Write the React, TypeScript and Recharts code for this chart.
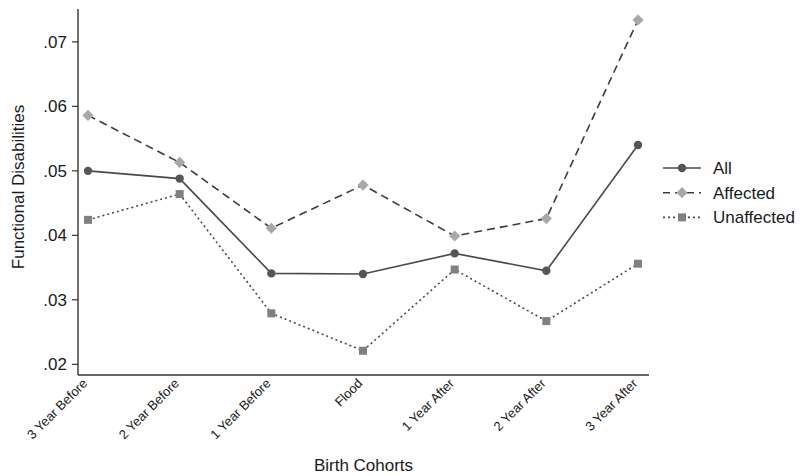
import { LineChart, Line, XAxis, YAxis } from "recharts";

const cohorts = ["3 Year Before", "2 Year Before", "1 Year Before", "Flood", "1 Year After", "2 Year After", "3 Year After"];
const allValues = [0.0500, 0.0488, 0.0341, 0.0340, 0.0372, 0.0345, 0.0540];
const affectedValues = [0.0586, 0.0513, 0.0411, 0.0478, 0.0399, 0.0426, 0.0734];
const unaffectedValues = [0.0424, 0.0464, 0.0279, 0.0221, 0.0347, 0.0267, 0.0356];
const yTicks = [0.02, 0.03, 0.04, 0.05, 0.06, 0.07];

const data = cohorts.map((c, i) => ({
  cohort: c,
  all: allValues[i],
  affected: affectedValues[i],
  unaffected: unaffectedValues[i],
}));

const FONT = "'Liberation Sans', Arial, sans-serif";
const TEXT = "#1a1a1a";
const FRAME = { stroke: "#333", strokeWidth: 1.4 };
const Y_DOMAIN = [0.01834, 0.0751];

const SERIES = [
  { key: "all", label: "All", line: "#4a4a4a", dash: undefined as string | undefined, marker: "circle", fill: "#555555" },
  { key: "affected", label: "Affected", line: "#3c3c3c", dash: "8 5", marker: "diamond", fill: "#a8a8a8" },
  { key: "unaffected", label: "Unaffected", line: "#4a4a4a", dash: "2 3", marker: "square", fill: "#808080" },
];

function Marker({ type, cx, cy, fill }: { type: string; cx: number; cy: number; fill: string }) {
  if (type === "circle") return <circle cx={cx} cy={cy} r={4.2} fill={fill} />;
  if (type === "diamond") {
    const d = 5.6;
    return <polygon points={`${cx},${cy - d} ${cx + d},${cy} ${cx},${cy + d} ${cx - d},${cy}`} fill={fill} />;
  }
  return <rect x={cx - 4} y={cy - 4} width={8} height={8} fill={fill} />;
}

const makeDot = (type: string, fill: string) => (props: any) => {
  const { cx, cy, index } = props;
  if (cx == null || cy == null) return <g key={index} />;
  return <Marker key={index} type={type} cx={cx} cy={cy} fill={fill} />;
};

const XTick = ({ x, y, payload }: any) => {
  const ax = x - 3;
  const ay = y - 2;
  return (
    <text
      x={ax}
      y={ay}
      dy="0.35em"
      textAnchor="end"
      transform={`rotate(-45 ${ax} ${ay})`}
      fontSize={13}
      fontFamily={FONT}
      fill={TEXT}
    >
      {payload.value}
    </text>
  );
};

// legend drawn beside the plot, outside recharts' layout
const LegendBox = () => (
  <svg width={140} height={80} style={{ position: "absolute", left: 662, top: 156 }}>
    {SERIES.map((s, i) => {
      const y = 12 + i * 24.7;
      return (
        <g key={s.key}>
          <line x1={1} x2={39} y1={y} y2={y} stroke={s.line} strokeWidth={1.6} strokeDasharray={s.dash === "8 5" ? "7 5" : s.dash} />
          <Marker type={s.marker} cx={20} cy={y} fill={s.fill} />
          <text x={51} y={y} dy="0.35em" fontSize={17} fontFamily={FONT} fill={TEXT}>
            {s.label}
          </text>
        </g>
      );
    })}
  </svg>
);

export default function App() {
  return (
    <div style={{ position: "absolute", left: 0, top: 0, width: 802, height: 476, background: "#fff" }}>
      <LineChart width={802} height={476} data={data} margin={{ top: 9, right: 153, bottom: 0, left: 0 }}>
        <XAxis
          dataKey="cohort"
          axisLine={FRAME}
          tickLine={false}
          interval={0}
          padding={{ left: 10, right: 11 }}
          tick={<XTick />}
          height={101}
          label={{ value: "Birth Cohorts", position: "insideBottom", offset: 5, fontSize: 17, fontFamily: FONT, fill: TEXT }}
        />
        {/* top edge of the box */}
        <XAxis xAxisId="top" orientation="top" dataKey="cohort" height={0} axisLine={FRAME} tick={false} tickLine={false} />
        <YAxis
          domain={Y_DOMAIN}
          ticks={yTicks}
          width={78}
          axisLine={FRAME}
          tickSize={6}
          tickMargin={5}
          tickLine={{ stroke: "#333", strokeWidth: 1.2 }}
          tickFormatter={(v: number) => v.toFixed(2).replace(/^0/, "")}
          tick={{ fontSize: 17, fontFamily: FONT, fill: TEXT }}
          label={{
            value: "Functional Disabilities",
            angle: -90,
            position: "insideLeft",
            offset: 18,
            dy: -5,
            fontSize: 17,
            fontFamily: FONT,
            fill: TEXT,
            style: { textAnchor: "middle" },
          }}
        />
        {/* right edge of the box */}
        <YAxis yAxisId="right" orientation="right" width={0} domain={Y_DOMAIN} axisLine={FRAME} tick={false} tickLine={false} />
        {SERIES.map(s => (
          <Line
            key={s.key}
            dataKey={s.key}
            stroke={s.line}
            strokeWidth={1.6}
            strokeDasharray={s.dash}
            dot={makeDot(s.marker, s.fill)}
            activeDot={false}
            isAnimationActive={false}
          />
        ))}
      </LineChart>
      <LegendBox />
    </div>
  );
}
